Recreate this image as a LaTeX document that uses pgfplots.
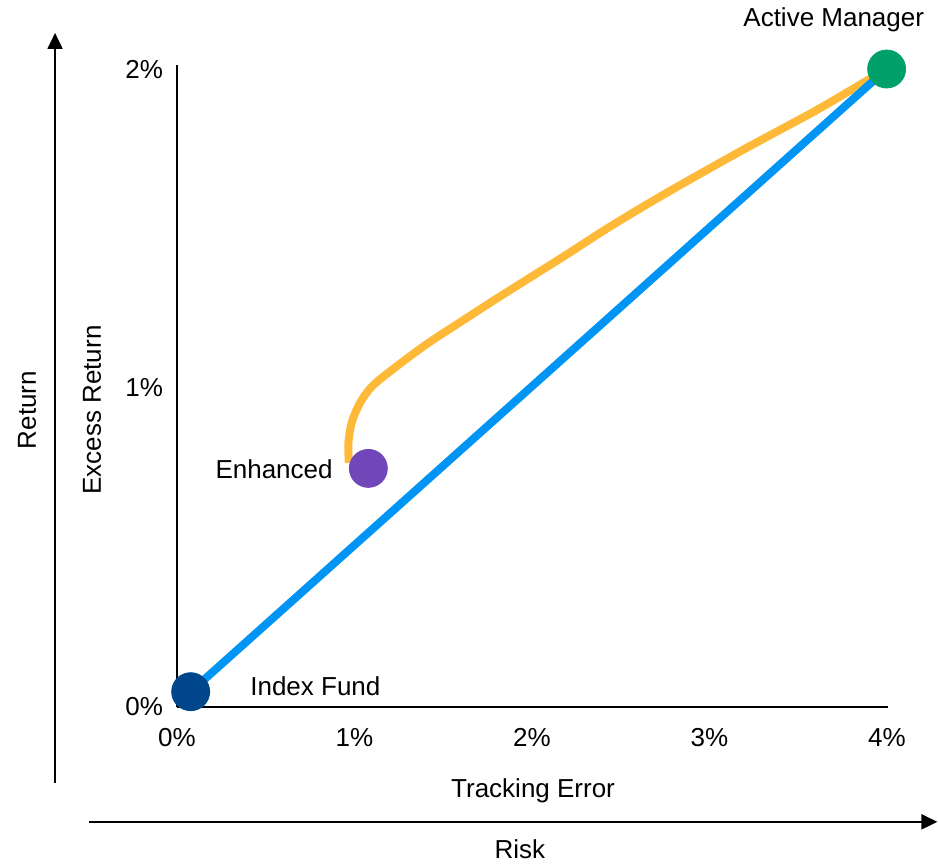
\documentclass[border=0pt]{standalone}
\usepackage{fontspec}
\setmainfont{Liberation Sans}
\usepackage{pgfplots}
\pgfplotsset{compat=1.18}
\usetikzlibrary{arrows.meta}
\definecolor{cOrange}{HTML}{FFB938}
\definecolor{cBlue}{HTML}{0094F5}
\definecolor{cNavy}{HTML}{00468C}
\definecolor{cGreen}{HTML}{00A06B}
\definecolor{cPurple}{HTML}{7046B8}
\begin{document}
\begin{tikzpicture}[font=\fontsize{13pt}{15pt}\selectfont]
\useasboundingbox (-88.5pt,-78pt) rectangle (380.5pt,353.5pt);
\begin{axis}[
  at={(0,0)}, anchor=origin,
  scale only axis, width=355pt, height=319pt,
  xmin=0, xmax=4, ymin=0, ymax=2,
  axis x line=bottom, axis y line=left,
  axis line style={-, line width=1pt, black},
  x axis line style={shorten >=-0.5pt},
  y axis line style={shorten >=-2pt},
  major tick length=0pt,
  xtick={0,1,2,3,4}, xticklabels={0\%,1\%,2\%,3\%,4\%},
  ytick={0,1,2}, yticklabels={0\%,1\%,2\%},
  /pgf/number format/assume math mode=true,
  xticklabel style={yshift=-7pt},
  yticklabel style={xshift=-3.5pt},
  clip=false,
]
% Enhanced curve
\addplot[cOrange, line width=4pt, smooth, tension=0.5] coordinates {
 (0.968,0.765) (0.966,0.830) (0.985,0.893) (1.030,0.952) (1.095,1.003)
 (1.200,1.052) (1.400,1.135) (1.600,1.208) (1.800,1.280) (2.000,1.350)
 (2.200,1.420) (2.400,1.492) (2.600,1.560) (2.800,1.625) (3.000,1.688)
 (3.200,1.750) (3.400,1.810) (3.600,1.870) (3.800,1.935) (3.998,2.0)
};
% Index fund to active manager
\addplot[cBlue, line width=4pt] coordinates {(0.077,0.048) (3.998,2.0)};
% markers
\addplot[only marks, mark=*, mark size=9.5pt, cNavy] coordinates {(0.077,0.048)};
\addplot[only marks, mark=*, mark size=9.5pt, cGreen] coordinates {(3.998,2.0)};
\addplot[only marks, mark=*, mark size=9.5pt, cPurple] coordinates {(1.078,0.748)};
% labels
\node[anchor=center] at (axis cs:3.70,2.154) {Active Manager};
\node[anchor=east, inner sep=0pt] at (axis cs:0.879,0.746) {Enhanced};
\node[anchor=west, inner sep=0pt] at (axis cs:0.411,0.066) {Index Fund};
\node at (axis cs:2.006,-0.263) {Tracking Error};
\node[rotate=90] at (axis cs:-0.479,0.931) {Excess Return};
\node[rotate=90] at (axis cs:-0.845,0.931) {Return};
\node[inner sep=0pt] at (axis cs:1.932,-0.445) {Risk};
% big arrows
\draw[line width=1pt, -{Triangle[length=8pt,width=7.5pt]}] (axis cs:-0.687,-0.238) -- (axis cs:-0.687,2.113);
\draw[line width=1pt, -{Triangle[length=8pt,width=7.5pt]}] (axis cs:-0.496,-0.36) -- (axis cs:4.284,-0.36);
\end{axis}
\end{tikzpicture}
\end{document}
